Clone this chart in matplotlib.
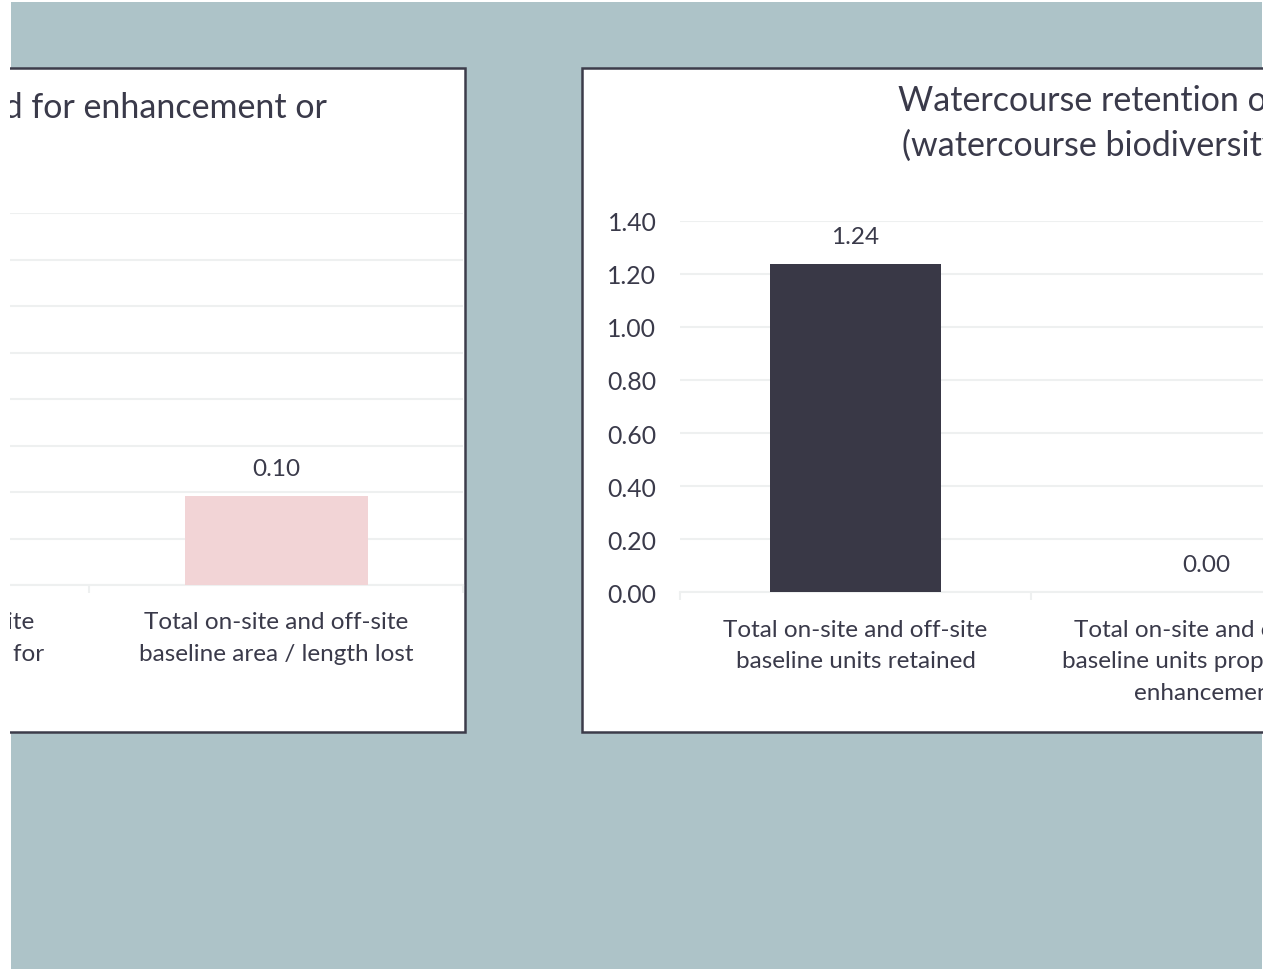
import matplotlib.pyplot as plt
import numpy as np
from matplotlib.patches import Rectangle

# screenshot size in pixels
W, H = 1267, 970

# left chart (mostly cut off on the left side of the screen)
left_categories = ['Total on-site and off-site\nbaseline area / length retained',
                   'Total on-site and off-site\nbaseline area proposed for\nenhancement',
                   'Total on-site and off-site\nbaseline area / length lost']
left_values = [np.nan, np.nan, 0.0955]
left_yticks = [0.0, 0.05, 0.10, 0.15, 0.20, 0.25, 0.30, 0.35, 0.40]
left_title = 'Habitat area / length retained, proposed for enhancement or'

# right chart (cut off on the right side)
right_categories = ['Total on-site and off-site\nbaseline units retained',
                    'Total on-site and off-site\nbaseline units proposed for\nenhancement']
right_values = [1.236, 0.0]
right_yticks = [0.0, 0.2, 0.4, 0.6, 0.8, 1.0, 1.2, 1.4]
right_title = ['Watercourse retention or enhancement',
               '(watercourse biodiversity units)']

TEXT = '#3a3a4a'
GRID = '#eef0f0'
TEAL = '#adc3c8'
BORDER = '#3c3c4a'

plt.rcParams['font.family'] = ['Lato', 'DejaVu Sans']


def fx(px):
    return px / W


def fy(py):
    return 1 - py / H


def add_rect(fig, x0, y0, x1, y1, **kw):
    r = Rectangle((fx(x0), fy(y1)), fx(x1) - fx(x0), fy(y0) - fy(y1),
                  transform=fig.transFigure, **kw)
    fig.add_artist(r)
    return r


def bar_chart(fig, box, categories, values, color, yticks, ylim):
    # box = (left, top, right, bottom) of the plot area in pixels
    l, t, r, b = box
    ax = fig.add_axes([fx(l), fy(b), fx(r) - fx(l), fy(t) - fy(b)])
    ax.set_facecolor('none')
    x = np.arange(len(categories))
    ax.bar(x, values, width=0.49, color=color, zorder=3)
    for xi, v in zip(x, values):
        if np.isnan(v):
            continue
        ax.annotate('{:.2f}'.format(v), (xi, v), xytext=(0, 20),
                    textcoords='offset points', ha='center', va='center',
                    fontsize=17.5, color=TEXT)
    ax.set_xlim(-0.5, len(categories) - 0.5)
    ax.set_ylim(*ylim)
    ax.set_yticks(yticks)
    ax.set_yticklabels(['{:.2f}'.format(v) for v in yticks])
    ax.yaxis.grid(True, color=GRID, lw=1.5, zorder=0)
    ax.set_xticks(x)
    ax.set_xticklabels(categories, fontsize=17.5, color=TEXT, linespacing=1.62,
                       va='top')
    ax.set_xticks(np.arange(len(categories) + 1) - 0.5, minor=True)
    ax.tick_params(axis='x', which='major', length=0, pad=19)
    ax.tick_params(axis='x', which='minor', length=6, color=GRID, width=1.5)
    ax.tick_params(axis='y', length=0, pad=17, labelsize=17.8, labelcolor=TEXT)
    for s in ['top', 'right', 'left']:
        ax.spines[s].set_visible(False)
    ax.spines['bottom'].set_color(GRID)
    ax.spines['bottom'].set_linewidth(1.5)
    return ax


fig = plt.figure(figsize=(W / 100, H / 100), dpi=100, facecolor='white')

# spreadsheet background and the two chart panels
add_rect(fig, 11, 3, 1262, 970, facecolor=TEAL, edgecolor='none', zorder=-3)
add_rect(fig, -900, 69, 465, 733, facecolor='white', edgecolor=BORDER,
         lw=1.8, zorder=-2)
add_rect(fig, 582, 69, 1500, 733, facecolor='white', edgecolor=BORDER,
         lw=1.8, zorder=-2)

bar_chart(fig, (-658, 214, 463, 586), left_categories, left_values,
          '#f2d4d6', left_yticks, (0, 0.40))
bar_chart(fig, (680, 221.7, 1382, 593.3), right_categories, right_values,
          '#393846', right_yticks, (0, 1.4))

fig.text(fx(327), fy(108), left_title, ha='right', va='center',
         fontsize=24.5, color=TEXT)
fig.text(fx(898), fy(101), right_title[0], ha='left', va='center',
         fontsize=24.5, color=TEXT)
fig.text(fx(902), fy(145), right_title[1], ha='left', va='center',
         fontsize=24.5, color=TEXT)

# the white margin of the screenshot hides whatever is outside the window
add_rect(fig, -10, -10, 10.5, 980, facecolor='white', edgecolor='none',
         zorder=20)
add_rect(fig, -10, -10, 1280, 3, facecolor='white', edgecolor='none',
         zorder=20)
add_rect(fig, 1262.5, -10, 1280, 980, facecolor='white', edgecolor='none',
         zorder=20)

fig.savefig('out.png', dpi=100, facecolor='white')
